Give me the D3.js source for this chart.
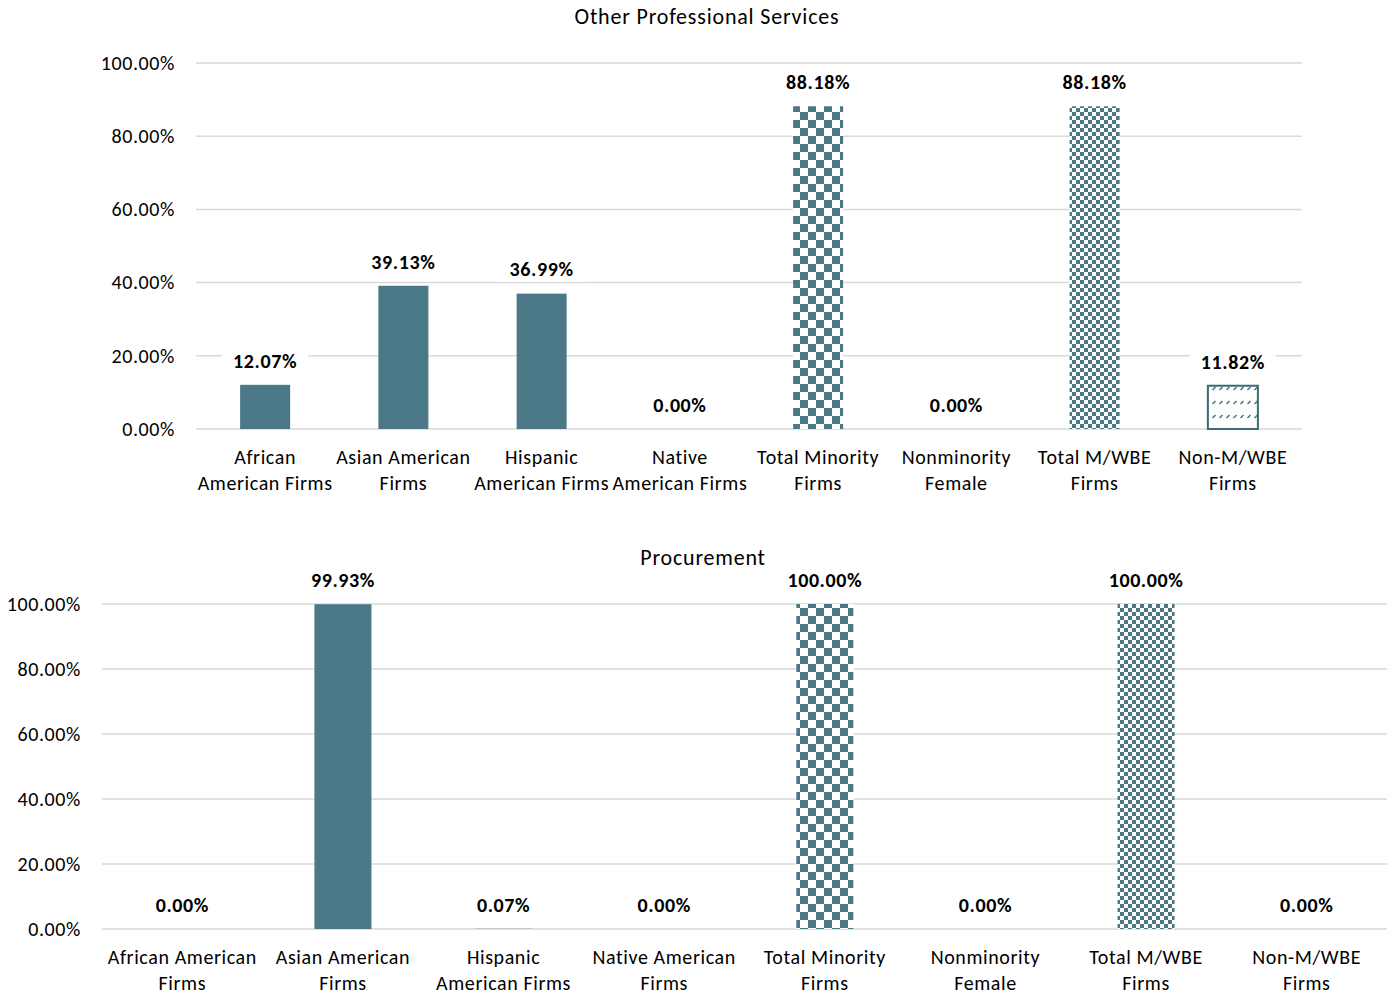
<!DOCTYPE html>
<html>
<head>
<meta charset="utf-8">
<script src="https://cdn.jsdelivr.net/npm/d3@7"></script>
<style>
  html, body { margin: 0; padding: 0; background: #fff; }
  svg text { font-family: Carlito, Calibri, Lato, "Open Sans", sans-serif; fill: #000; letter-spacing: 0.6px; }
</style>
</head>
<body>
<svg id="chart" width="1389" height="994"></svg>
<script>
// Utilization shares by firm group, two industries
const categories = ["African American Firms", "Asian American Firms", "Hispanic American Firms",
  "Native American Firms", "Total Minority Firms", "Nonminority Female", "Total M/WBE Firms", "Non-M/WBE Firms"];

const otherProfValues = [12.07, 39.13, 36.99, 0.00, 88.18, 0.00, 88.18, 11.82];
const procurementValues = [0.00, 99.93, 0.07, 0.00, 100.00, 0.00, 100.00, 0.00];

const otherProfTickLabels = [
  ["African", "American Firms"], ["Asian American", "Firms"], ["Hispanic", "American Firms"],
  ["Native", "American Firms"], ["Total Minority", "Firms"], ["Nonminority", "Female"],
  ["Total M/WBE", "Firms"], ["Non-M/WBE", "Firms"]];
const procurementTickLabels = [
  ["African American", "Firms"], ["Asian American", "Firms"], ["Hispanic", "American Firms"],
  ["Native American", "Firms"], ["Total Minority", "Firms"], ["Nonminority", "Female"],
  ["Total M/WBE", "Firms"], ["Non-M/WBE", "Firms"]];

const yTicks = [0, 20, 40, 60, 80, 100];

// fill style per category: solid, large checks, small checks, dashed diagonal
const fillKinds = ["solid", "solid", "solid", "solid", "bigCheck", "solid", "smallCheck", "dashDiag"];

const teal = "#4A7886";
const svg = d3.select("#chart");
const defs = svg.append("defs");

// large checkerboard
const pBig = defs.append("pattern").attr("id", "bigCheck").attr("patternUnits", "userSpaceOnUse")
  .attr("width", 16).attr("height", 16);
pBig.append("rect").attr("width", 16).attr("height", 16).attr("fill", "#fff");
pBig.append("rect").attr("x", 0).attr("y", 0).attr("width", 8).attr("height", 8).attr("fill", teal);
pBig.append("rect").attr("x", 8).attr("y", 8).attr("width", 8).attr("height", 8).attr("fill", teal);

// small checkerboard
const pSmall = defs.append("pattern").attr("id", "smallCheck").attr("patternUnits", "userSpaceOnUse")
  .attr("width", 8).attr("height", 8);
pSmall.append("rect").attr("width", 8).attr("height", 8).attr("fill", "#fff");
pSmall.append("rect").attr("x", 0).attr("y", 0).attr("width", 4).attr("height", 4).attr("fill", teal);
pSmall.append("rect").attr("x", 4).attr("y", 4).attr("width", 4).attr("height", 4).attr("fill", teal);

// dashed upward diagonal
const pDash = defs.append("pattern").attr("id", "dashDiag").attr("patternUnits", "userSpaceOnUse")
  .attr("width", 7).attr("height", 14);
pDash.append("rect").attr("width", 7).attr("height", 14).attr("fill", "#fff");
pDash.append("path").attr("d", "M1.5,12 L4.5,9").attr("stroke", teal).attr("stroke-width", 1.6);

function fillFor(kind) {
  return kind === "solid" ? teal : `url(#${kind})`;
}

function drawChart(cfg) {
  const g = svg.append("g");
  const x = d3.scaleBand().domain(categories).range([cfg.left, cfg.right]).paddingInner(0).paddingOuter(0);
  const y = d3.scaleLinear().domain([0, 100]).range([cfg.bottom, cfg.top]);
  const bw = cfg.barWidth;
  const dy = 2; // text centre offset

  // title
  g.append("text").attr("x", cfg.titleX).attr("y", cfg.titleY + dy)
    .attr("text-anchor", "middle").attr("dominant-baseline", "middle")
    .attr("font-size", 22).style("letter-spacing", "0.8px").text(cfg.title);

  // gridlines
  g.selectAll("line.grid").data(yTicks).join("line")
    .attr("x1", cfg.left).attr("x2", cfg.right)
    .attr("y1", d => y(d)).attr("y2", d => y(d))
    .attr("stroke", "#d9d9d9").attr("stroke-width", 1.5);

  // y tick labels
  g.selectAll("text.ytick").data(yTicks).join("text")
    .attr("x", cfg.yLabelX).attr("y", d => y(d) + dy)
    .attr("text-anchor", "end").attr("dominant-baseline", "middle")
    .attr("font-size", 20).text(d => d.toFixed(2) + "%");

  // bars
  g.selectAll("rect.bar").data(cfg.values).join("rect")
    .attr("x", (d, i) => x(categories[i]) + x.bandwidth() / 2 - bw / 2)
    .attr("width", bw)
    .attr("y", d => y(d))
    .attr("height", d => cfg.bottom - y(d))
    .attr("fill", (d, i) => fillFor(fillKinds[i]))
    .attr("stroke", (d, i) => fillKinds[i] === "dashDiag" && d > 0 ? "#3d6a77" : "none")
    .attr("stroke-width", 2);

  // data labels with white backing
  const lab = g.selectAll("g.lab").data(cfg.values).join("g")
    .attr("transform", (d, i) => `translate(${x(categories[i]) + x.bandwidth() / 2},${y(d) - 24})`);
  lab.append("rect").attr("x", -43).attr("y", -12).attr("width", 86).attr("height", 24).attr("fill", "#fff");
  lab.append("text").attr("y", dy).attr("text-anchor", "middle").attr("dominant-baseline", "middle")
    .attr("font-size", 20).attr("font-weight", "bold")
    .text(d => d.toFixed(2) + "%");

  // category labels
  const cat = g.selectAll("text.cat").data(cfg.tickLabels).join("text")
    .attr("text-anchor", "middle").attr("font-size", 20)
    .attr("transform", (d, i) => `translate(${x(categories[i]) + x.bandwidth() / 2},${cfg.bottom + 28 + dy})`);
  cat.selectAll("tspan").data(d => d).join("tspan")
    .attr("x", 0).attr("dy", (d, j) => j === 0 ? 0 : 26).attr("dominant-baseline", "middle")
    .text(d => d);
}

drawChart({
  title: "Other Professional Services", titleX: 707, titleY: 17,
  values: otherProfValues, tickLabels: otherProfTickLabels,
  left: 196, right: 1302, top: 63, bottom: 429, yLabelX: 175, barWidth: 50
});

drawChart({
  title: "Procurement", titleX: 703, titleY: 558,
  values: procurementValues, tickLabels: procurementTickLabels,
  left: 102, right: 1387, top: 604, bottom: 929, yLabelX: 81, barWidth: 57
});
</script>
</body>
</html>
